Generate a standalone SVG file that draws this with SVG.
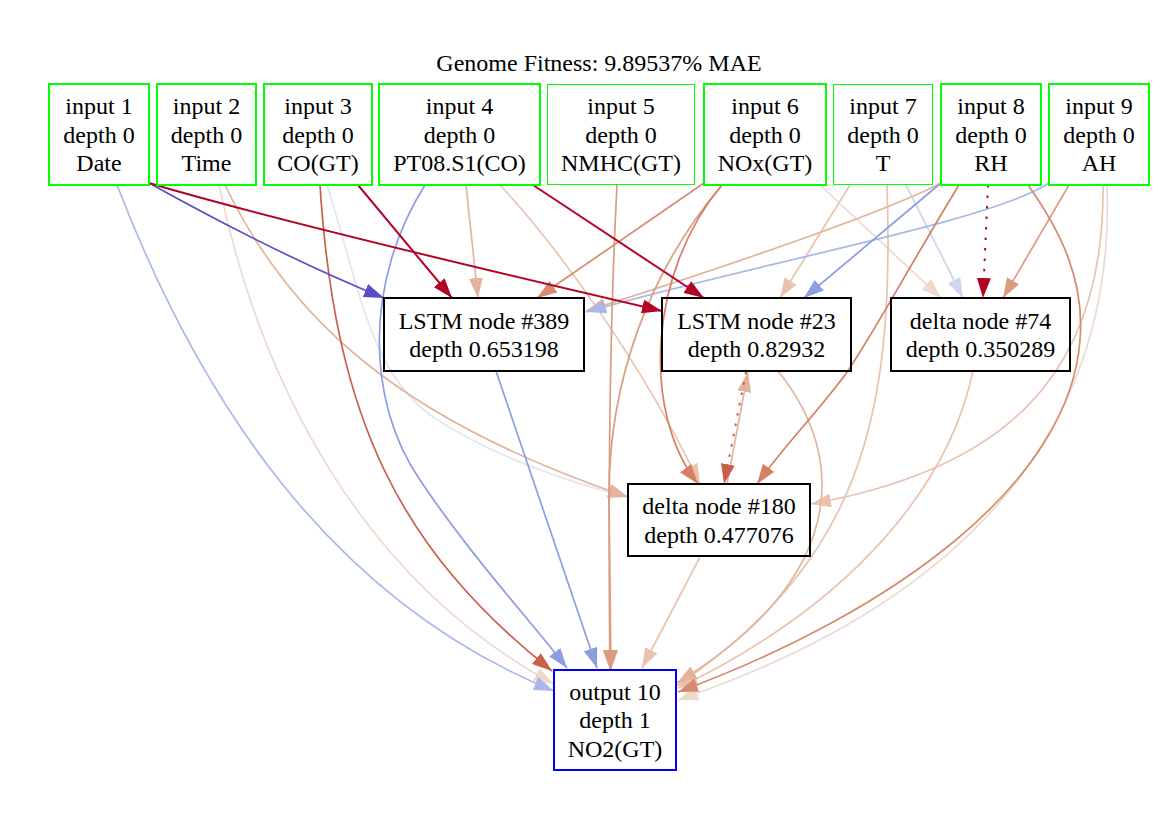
<svg xmlns="http://www.w3.org/2000/svg" width="1176" height="816" viewBox="0 0 1176 816">
<style>
text{font-family:"Liberation Serif","Times New Roman",serif;font-size:24px;fill:#000;text-anchor:middle}
.e{fill:none;stroke-width:1.7}
.dot{stroke-dasharray:2.5 8;stroke-width:2}
.c1{stroke:#5b4dc5}.c2{stroke:#b40426;stroke-width:2}.c3{stroke:#c9604a}.c4{stroke:#d67f64}
.c5{stroke:#d88a6e}.c6{stroke:#dc9c82}.c7{stroke:#e3b49c}.c8{stroke:#e8c4af}.c9{stroke:#eed9ce}
.c10{stroke:#e2e6ef}.c11{stroke:#cdd6ec}.c12{stroke:#aab8e9}.c13{stroke:#8c9de0}
.in{fill:none;stroke:#00ff00;stroke-width:2}
.thin{stroke-width:1}
.hid{fill:none;stroke:#000;stroke-width:2}
.out{fill:none;stroke:#0000ff;stroke-width:2}
</style>
<defs>
<marker id="m1" viewBox="0 0 20 14" refX="20" refY="7" markerWidth="20" markerHeight="14" markerUnits="userSpaceOnUse" orient="auto"><path d="M0,0L20,7L0,14Z" fill="#5b4dc5"/></marker>
<marker id="m2" viewBox="0 0 20 14" refX="20" refY="7" markerWidth="20" markerHeight="14" markerUnits="userSpaceOnUse" orient="auto"><path d="M0,0L20,7L0,14Z" fill="#b40426"/></marker>
<marker id="m3" viewBox="0 0 20 14" refX="20" refY="7" markerWidth="20" markerHeight="14" markerUnits="userSpaceOnUse" orient="auto"><path d="M0,0L20,7L0,14Z" fill="#cb5e47"/></marker>
<marker id="m4" viewBox="0 0 20 14" refX="20" refY="7" markerWidth="20" markerHeight="14" markerUnits="userSpaceOnUse" orient="auto"><path d="M0,0L20,7L0,14Z" fill="#d67f64"/></marker>
<marker id="m5" viewBox="0 0 20 14" refX="20" refY="7" markerWidth="20" markerHeight="14" markerUnits="userSpaceOnUse" orient="auto"><path d="M0,0L20,7L0,14Z" fill="#d88a6e"/></marker>
<marker id="m6" viewBox="0 0 20 14" refX="20" refY="7" markerWidth="20" markerHeight="14" markerUnits="userSpaceOnUse" orient="auto"><path d="M0,0L20,7L0,14Z" fill="#dc9c82"/></marker>
<marker id="m7" viewBox="0 0 20 14" refX="20" refY="7" markerWidth="20" markerHeight="14" markerUnits="userSpaceOnUse" orient="auto"><path d="M0,0L20,7L0,14Z" fill="#e3b49c"/></marker>
<marker id="m8" viewBox="0 0 20 14" refX="20" refY="7" markerWidth="20" markerHeight="14" markerUnits="userSpaceOnUse" orient="auto"><path d="M0,0L20,7L0,14Z" fill="#e8c4af"/></marker>
<marker id="m9" viewBox="0 0 20 14" refX="20" refY="7" markerWidth="20" markerHeight="14" markerUnits="userSpaceOnUse" orient="auto"><path d="M0,0L20,7L0,14Z" fill="#eed9ce"/></marker>
<marker id="m10" viewBox="0 0 20 14" refX="20" refY="7" markerWidth="20" markerHeight="14" markerUnits="userSpaceOnUse" orient="auto"><path d="M0,0L20,7L0,14Z" fill="#e2e6ef"/></marker>
<marker id="m11" viewBox="0 0 20 14" refX="20" refY="7" markerWidth="20" markerHeight="14" markerUnits="userSpaceOnUse" orient="auto"><path d="M0,0L20,7L0,14Z" fill="#cdd6ec"/></marker>
<marker id="m12" viewBox="0 0 20 14" refX="20" refY="7" markerWidth="20" markerHeight="14" markerUnits="userSpaceOnUse" orient="auto"><path d="M0,0L20,7L0,14Z" fill="#aab8e9"/></marker>
<marker id="m13" viewBox="0 0 20 14" refX="20" refY="7" markerWidth="20" markerHeight="14" markerUnits="userSpaceOnUse" orient="auto"><path d="M0,0L20,7L0,14Z" fill="#8c9de0"/></marker>
</defs>
<rect width="1176" height="816" fill="#fff"/>
<text x="599" y="71">Genome Fitness: 9.89537% MAE</text>
<g id="connectors">
<path class="e c9" marker-end="url(#m9)" d="M1107,185 C1115,400 1000,590 678,700"/>
<path class="e c9" marker-end="url(#m9)" d="M219,185 C260,380 360,580 554,684"/>
<path class="e c9" marker-end="url(#m9)" d="M820,185 L941,298"/>
<path class="e c10" marker-end="url(#m10)" d="M327,185 C360,290 370,370 430,415 C490,455 560,480 628,497"/>
<path class="e c8" marker-end="url(#m8)" d="M887,185 C895,420 860,560 677,686"/>
<path class="e c8" marker-end="url(#m8)" d="M973,371 C950,480 860,600 678,688"/>
<path class="e c8" marker-end="url(#m8)" d="M1103,185 C1105,380 1000,470 811,504"/>
<path class="e c8" marker-end="url(#m8)" d="M500,185 C560,250 640,360 700,484"/>
<path class="e c8" marker-end="url(#m8)" d="M850,185 L780,298"/>
<path class="e c8" marker-end="url(#m8)" d="M700,557 L642,668"/>
<path class="e c11" marker-end="url(#m11)" d="M906,185 L963,298"/>
<path class="e c7" marker-end="url(#m7)" d="M225,185 C290,320 400,420 628,497"/>
<path class="e c7" marker-end="url(#m7)" d="M466,185 L478,298"/>
<path class="e c7" marker-end="url(#m7)" d="M941,183 C880,215 700,275 586,311"/>
<path class="e c7" marker-end="url(#m7)" d="M727,484 L748,372"/>
<path class="e c7" marker-end="url(#m7)" d="M778,371 C850,460 845,580 677,683"/>
<path class="e c12" marker-end="url(#m12)" d="M1049,183 C990,222 760,262 586,312"/>
<path class="e c12" marker-end="url(#m12)" d="M117,185 C200,400 330,600 554,691"/>
<path class="e c6" marker-end="url(#m6)" d="M617,185 C610,320 608,500 610,670"/>
<path class="e c6" marker-end="url(#m6)" d="M722,185 C650,270 608,380 609,500 C610,580 611,630 611,670"/>
<path class="e c6" marker-end="url(#m6)" d="M1069,185 L1003,298"/>
<path class="e c5" marker-end="url(#m5)" d="M704,183 L537,298"/>
<path class="e c5" marker-end="url(#m5)" d="M1028,185 C1060,230 1085,280 1080,340 C1070,480 900,610 678,692"/>
<path class="e c4" marker-end="url(#m4)" d="M722,185 C650,270 640,410 698,484"/>
<path class="e c4" marker-end="url(#m4)" d="M959,185 C910,265 870,340 845,375 C815,415 785,445 757,484"/>
<path class="e c13" marker-end="url(#m13)" d="M941,183 L804,298"/>
<path class="e c13" marker-end="url(#m13)" d="M425,185 C365,280 365,400 420,480 C470,555 530,620 567,668"/>
<path class="e c13" marker-end="url(#m13)" d="M496,371 L597,668"/>
<path class="e c3" marker-end="url(#m3)" d="M320,185 C335,420 400,550 552,671"/>
<path class="e c3 dot" marker-end="url(#m3)" d="M746,372 L724,484"/>
<path class="e c1" marker-end="url(#m1)" d="M149,183 C230,228 310,268 384,298"/>
<path class="e c2" marker-end="url(#m2)" d="M149,183 C280,222 520,278 662,311"/>
<path class="e c2" marker-end="url(#m2)" d="M358,185 L452,298"/>
<path class="e c2" marker-end="url(#m2)" d="M533,185 L704,298"/>
<path class="e c2 dot" marker-end="url(#m2)" d="M988,185 L983,298"/>
</g>
<g id="in1"><rect class="in" x="49" y="84" width="100" height="101"/><text x="99" y="114">input 1</text><text x="99" y="142.5">depth 0</text><text x="99" y="171">Date</text></g>
<g id="in2"><rect class="in" x="157" y="84" width="99" height="101"/><text x="206.5" y="114">input 2</text><text x="206.5" y="142.5">depth 0</text><text x="206.5" y="171">Time</text></g>
<g id="in3"><rect class="in" x="264" y="84" width="108" height="101"/><text x="318" y="114">input 3</text><text x="318" y="142.5">depth 0</text><text x="318" y="171">CO(GT)</text></g>
<g id="in4"><rect class="in" x="379" y="84" width="161" height="101"/><text x="459.5" y="114">input 4</text><text x="459.5" y="142.5">depth 0</text><text x="459.5" y="171">PT08.S1(CO)</text></g>
<g id="in5"><rect class="in thin" x="547.5" y="84.5" width="147" height="100"/><text x="621" y="114">input 5</text><text x="621" y="142.5">depth 0</text><text x="621" y="171">NMHC(GT)</text></g>
<g id="in6"><rect class="in" x="704" y="84" width="122" height="101"/><text x="765" y="114">input 6</text><text x="765" y="142.5">depth 0</text><text x="765" y="171">NOx(GT)</text></g>
<g id="in7"><rect class="in thin" x="833.5" y="84.5" width="99" height="100"/><text x="883" y="114">input 7</text><text x="883" y="142.5">depth 0</text><text x="883" y="171">T</text></g>
<g id="in8"><rect class="in" x="941" y="84" width="100" height="101"/><text x="991" y="114">input 8</text><text x="991" y="142.5">depth 0</text><text x="991" y="171">RH</text></g>
<g id="in9"><rect class="in" x="1049" y="84" width="100" height="101"/><text x="1099" y="114">input 9</text><text x="1099" y="142.5">depth 0</text><text x="1099" y="171">AH</text></g>
<g id="lstm389"><rect class="hid" x="384" y="298" width="200" height="73"/><text x="484" y="328.5">LSTM node #389</text><text x="484" y="357">depth 0.653198</text></g>
<g id="lstm23"><rect class="hid" x="662" y="298" width="189" height="73"/><text x="756.5" y="328.5">LSTM node #23</text><text x="756.5" y="357">depth 0.82932</text></g>
<g id="delta74"><rect class="hid" x="891" y="298" width="179" height="73"/><text x="980.5" y="328.5">delta node #74</text><text x="980.5" y="357">depth 0.350289</text></g>
<g id="delta180"><rect class="hid" x="628" y="484" width="182" height="72"/><text x="719" y="514">delta node #180</text><text x="719" y="542.5">depth 0.477076</text></g>
<g id="out10"><rect class="out" x="554" y="670" width="122" height="100"/><text x="615" y="699.5">output 10</text><text x="615" y="728">depth 1</text><text x="615" y="756.5">NO2(GT)</text></g>
</svg>
